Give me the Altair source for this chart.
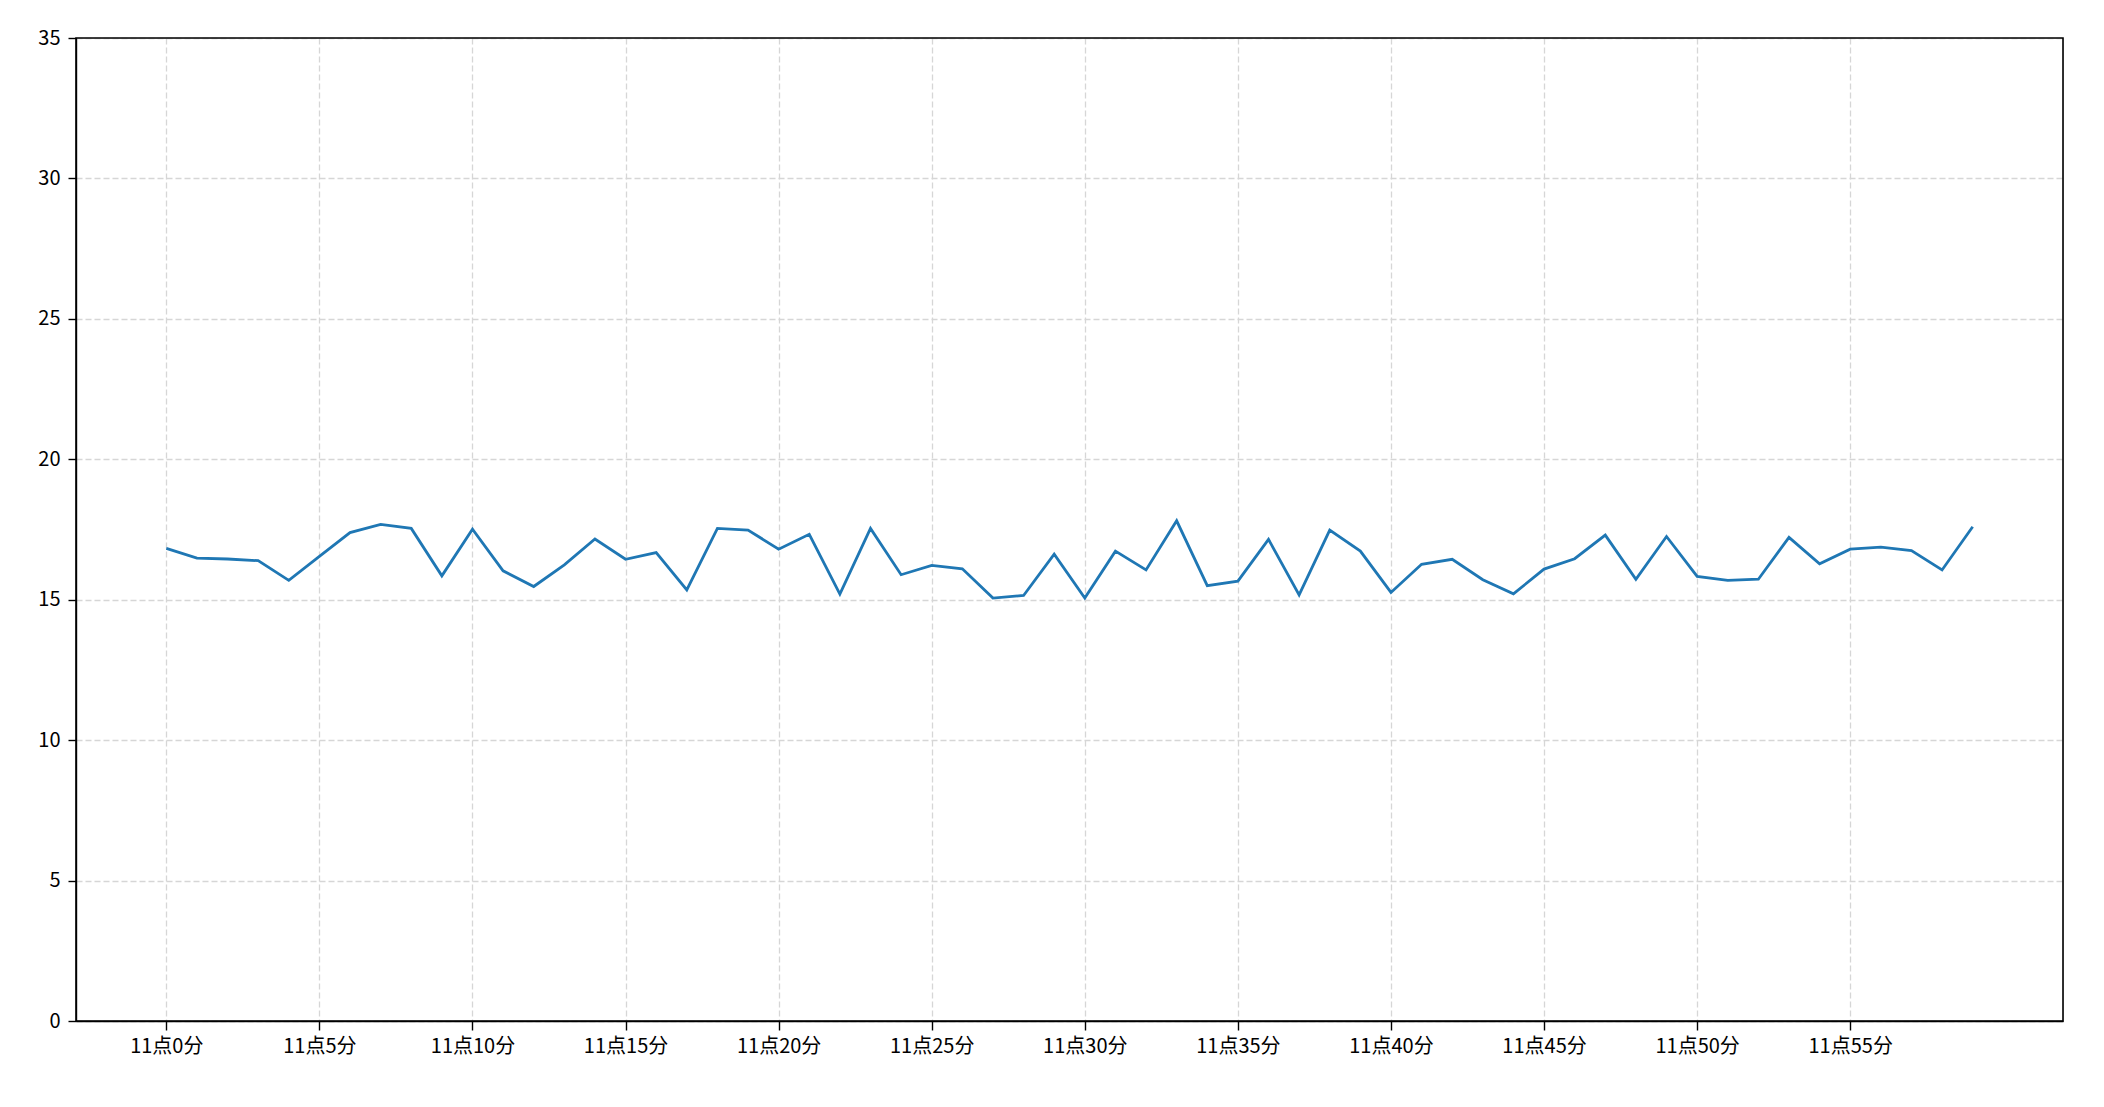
import altair as alt
import pandas as pd

minutes = list(range(60))
values = [
    16.83, 16.48, 16.45, 16.39, 15.69, 16.54, 17.39, 17.68, 17.54, 15.85,
    17.51, 16.03, 15.47, 16.24, 17.16, 16.44, 16.68, 15.35, 17.54, 17.48,
    16.80, 17.33, 15.20, 17.54, 15.89, 16.22, 16.10, 15.06, 15.15, 16.62,
    15.06, 16.73, 16.06, 17.81, 15.50, 15.66, 17.15, 15.17, 17.48, 16.73,
    15.26, 16.26, 16.44, 15.71, 15.21, 16.09, 16.46, 17.30, 15.73, 17.25,
    15.83, 15.69, 15.73, 17.22, 16.28, 16.80, 16.87, 16.75, 16.06, 17.60,
]
x_ticks = list(range(0, 60, 5))
y_ticks = list(range(0, 36, 5))

df = pd.DataFrame({"minute": minutes, "value": values})

FONT = "Noto Sans CJK SC"
W, H = 1987, 983

line = (
    alt.Chart(df)
    .mark_line(color="#1f77b4", strokeWidth=2.8)
    .encode(
        x=alt.X(
            "minute:Q",
            scale=alt.Scale(domain=[-2.95, 61.95], nice=False, zero=False),
            axis=alt.Axis(
                values=x_ticks,
                labelExpr="'11点' + datum.value + '分'",
                title=None,
                grid=True,
                gridDash=[6, 3],
                gridColor="#d6d6d6",
                gridWidth=1.3,
                tickSize=9,
                tickColor="black",
                tickWidth=1.4,
                domainColor="black",
                domainWidth=1.4,
                labelFont=FONT,
                labelFontSize=20,
                labelColor="black",
                labelPadding=6,
                labelFlush=False,
            ),
        ),
        y=alt.Y(
            "value:Q",
            scale=alt.Scale(domain=[0, 35], nice=False),
            axis=alt.Axis(
                values=y_ticks,
                title=None,
                grid=True,
                gridDash=[6, 3],
                gridColor="#d6d6d6",
                gridWidth=1.3,
                tickSize=8,
                tickColor="black",
                tickWidth=1.4,
                domainColor="black",
                domainWidth=1.4,
                labelFont=FONT,
                labelFontSize=20,
                labelColor="black",
                labelPadding=8,
                labelFlush=False,
            ),
        ),
    )
)

border = (
    alt.Chart(pd.DataFrame({"b": [0]}))
    .mark_rect(fill=None, fillOpacity=0, stroke="black", strokeWidth=1.6)
    .encode(
        x=alt.value(0),
        x2=alt.value(W),
        y=alt.value(0),
        y2=alt.value(H),
    )
)

chart = (
    alt.layer(line, border)
    .properties(
        width=W,
        height=H,
        autosize=alt.AutoSizeParams(type="none"),
        padding={"left": 68, "top": 30, "right": 30, "bottom": 70},
    )
    .configure_view(stroke=None)
    .configure(background="white")
)

chart.save("out.html", embed_options={"renderer": "svg", "actions": False})
